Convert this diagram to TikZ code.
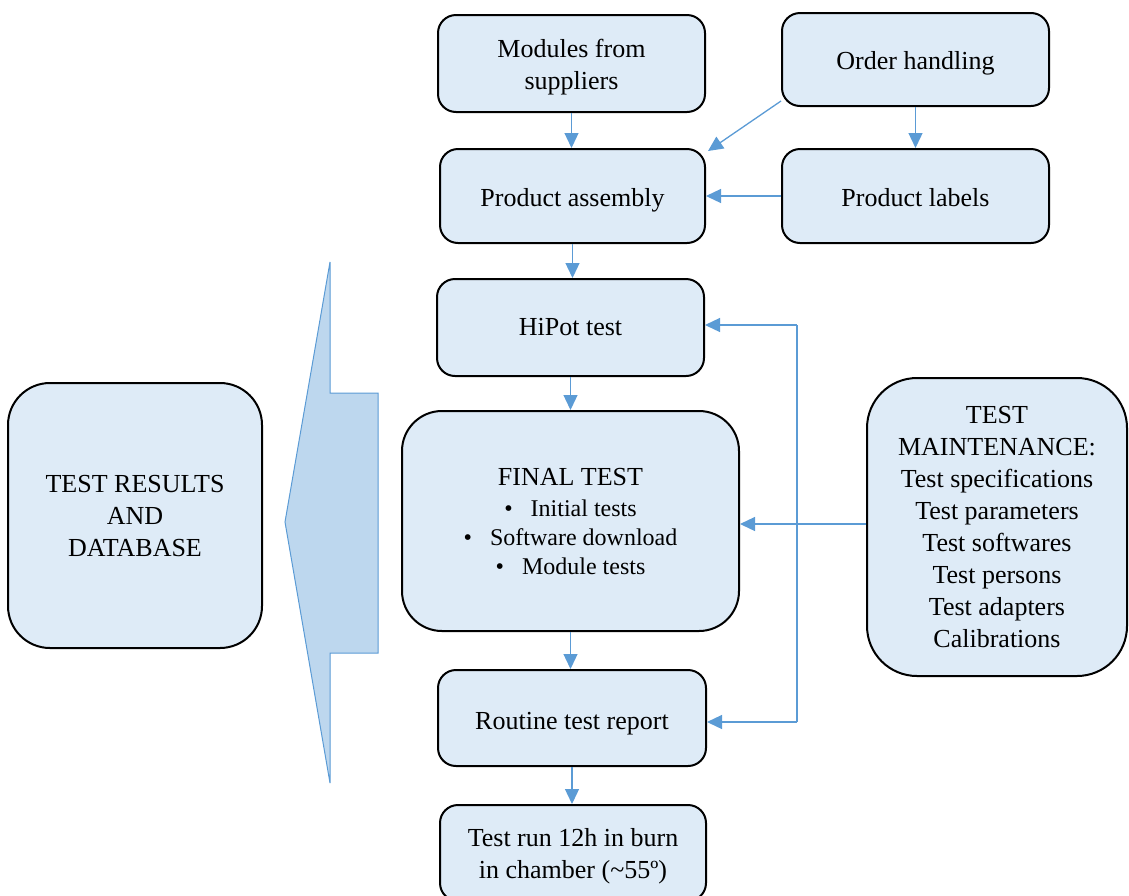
\documentclass[tikz,border=0pt]{standalone}
\usepackage{fontspec}
\setmainfont{Liberation Serif}
\usetikzlibrary{arrows.meta}
\definecolor{boxfill}{HTML}{DEEBF7}
\definecolor{arrowblue}{HTML}{5B9BD5}
\definecolor{bigfill}{HTML}{BDD7EE}
\newcommand\lowtext[2][4pt]{\raisebox{-#1}[\height][\depth]{\begin{tabular}{@{}c@{}}#2\end{tabular}}}
\begin{document}
\begin{tikzpicture}[x=1pt,y=-1pt,
  box/.style={draw=black, line width=2pt, fill=boxfill, rounded corners=18pt,
    align=center, inner sep=0pt, font=\fontsize{26}{32}\selectfont},
  conn/.style={draw=arrowblue, line width=1.3pt, -{Triangle[length=15pt,width=14pt]}},
  plainline/.style={draw=arrowblue, line width=1.3pt},
  bigarrow/.style={draw=arrowblue, fill=bigfill, line width=1pt},
]
\useasboundingbox (0,0) rectangle (1129,895);
\clip (0,0) rectangle (1129,895);

% big arrow pointing to the database
\path[bigarrow] (330,262) -- (330,393) -- (378,393) -- (378,653) -- (330,653)
  -- (330,783) -- (285,522) -- cycle;

\node[box, minimum width=267pt, minimum height=97pt] (mod) at (571.5,63.5) {\lowtext{Modules from\\suppliers}};
\node[box, minimum width=267pt, minimum height=93pt] (order) at (915.5,59.5) {\lowtext{Order handling}};
\node[box, minimum width=265pt, minimum height=94pt] (asm) at (572.5,196) {\lowtext{Product assembly}};
\node[box, minimum width=267pt, minimum height=94pt] (labels) at (915.5,196) {\lowtext{Product labels}};
\node[box, minimum width=267pt, minimum height=97pt] (hipot) at (570.5,327.5) {\lowtext[2pt]{HiPot test}};
\node[box, rounded corners=40pt, minimum width=337pt, minimum height=220pt] (final) at (570.5,521)
  {FINAL TEST\\[-1pt]
   {\fontsize{24}{29}\selectfont \textbullet\hspace{18pt}Initial tests}\\[-3pt]
   {\fontsize{24}{29}\selectfont \textbullet\hspace{18pt}Software download}\\[-3pt]
   {\fontsize{24}{29}\selectfont \textbullet\hspace{18pt}Module tests}};
\node[box, minimum width=268pt, minimum height=96pt] (routine) at (572,718) {\lowtext[5pt]{Routine test report}};
\node[box, minimum width=266pt, minimum height=96pt] (testrun) at (573,853) {\lowtext[3pt]{Test run 12h in burn\\in chamber (\textasciitilde55º)}};
\node[box, rounded corners=42pt, minimum width=254pt, minimum height=265pt] (res) at (135,515.5)
  {\lowtext[3pt]{TEST RESULTS\\AND\\DATABASE}};
\node[box, rounded corners=50pt, minimum width=260pt, minimum height=298pt] (maint) at (997,527)
  {TEST\\MAINTENANCE:\\Test specifications\\Test parameters\\Test softwares\\Test persons\\Test adapters\\Calibrations};

% connectors
\draw[conn] (mod.south) -- (mod.south |- asm.north);
\draw[conn] (order.south) -- (labels.north);
\draw[conn] ([yshift=6pt]order.south west) -- ([xshift=2pt,yshift=-3pt]asm.north east);
\draw[conn] (labels.west) -- (asm.east);
\draw[conn] (asm.south) -- (asm.south |- hipot.north);
\draw[conn] (hipot.south) -- (hipot.south |- final.north);
\draw[conn] (final.south) -- (final.south |- routine.north);
\draw[conn] (routine.south) -- (routine.south |- testrun.north);

\coordinate (jt) at (797,325);
\coordinate (jb) at (797,722);
\draw[plainline] (jt) -- (jb);
\draw[conn] (jt) -- (jt -| hipot.east);
\draw[conn] (jb) -- (jb -| routine.east);
\draw[conn] ([yshift=3pt]maint.west) -- ([yshift=3pt]maint.west -| final.east);
\end{tikzpicture}
\end{document}
